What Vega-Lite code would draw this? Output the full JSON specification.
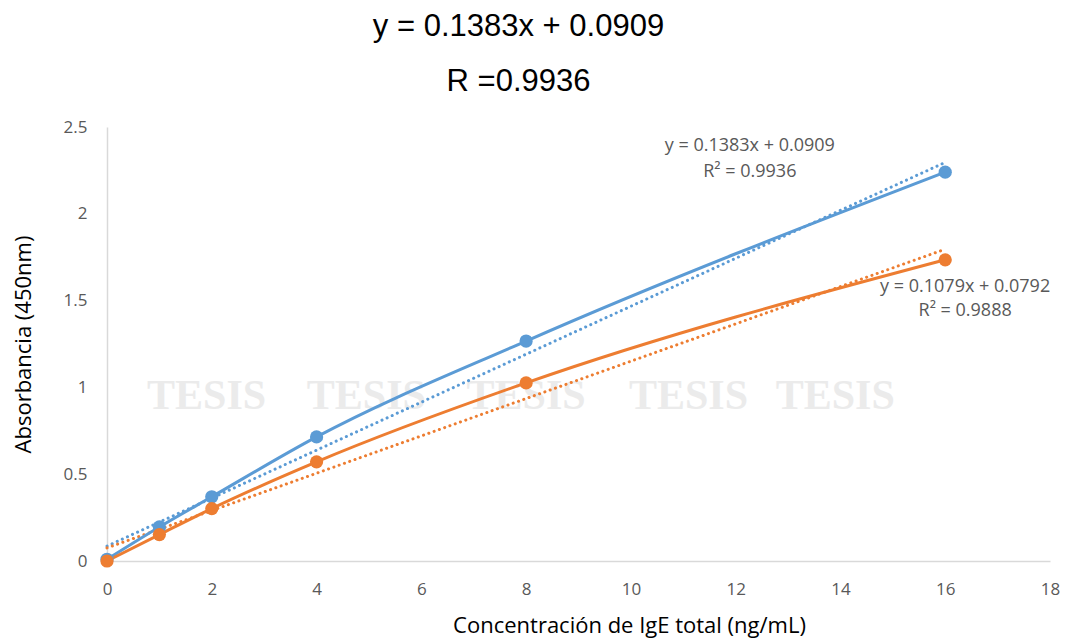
{
  "$schema": "https://vega.github.io/schema/vega-lite/v6.json",
  "width": 943,
  "height": 434,
  "autosize": {"type": "none"},
  "padding": {"left": 107, "top": 127, "right": 18, "bottom": 82},
  "background": "white",
  "title": {
    "text": ["y = 0.1383x + 0.0909", "R =0.9936"],
    "font": "Liberation Sans",
    "fontSize": 31,
    "fontWeight": "normal",
    "color": "#000000",
    "lineHeight": 55,
    "anchor": "middle",
    "frame": "group",
    "dx": -60,
    "offset": 20
  },
  "config": {
    "view": {"stroke": null},
    "axis": {
      "grid": false,
      "ticks": false,
      "labelFlush": false,
      "domainColor": "#d9d9d9",
      "domainWidth": 1.5,
      "labelColor": "#595959",
      "labelFont": "Open Sans",
      "labelFontSize": 17,
      "titleColor": "#000000",
      "titleFont": "Open Sans",
      "titleFontSize": 22,
      "titleFontWeight": "normal"
    }
  },
  "datasets": {
    "pts": [
      {"x": 0, "y": 0.01, "serie": "A"},
      {"x": 1, "y": 0.196, "serie": "A"},
      {"x": 2, "y": 0.37, "serie": "A"},
      {"x": 4, "y": 0.715, "serie": "A"},
      {"x": 8, "y": 1.267, "serie": "A"},
      {"x": 16, "y": 2.24, "serie": "A"},
      {"x": 0, "y": 0.0, "serie": "B"},
      {"x": 1, "y": 0.152, "serie": "B"},
      {"x": 2, "y": 0.302, "serie": "B"},
      {"x": 4, "y": 0.571, "serie": "B"},
      {"x": 8, "y": 1.026, "serie": "B"},
      {"x": 16, "y": 1.735, "serie": "B"}
    ],
    "wm": [
      {"x": 1.9, "y": 0.95, "t": "TESIS"},
      {"x": 4.95, "y": 0.95, "t": "TESIS"},
      {"x": 8.0, "y": 0.95, "t": "TESIS"},
      {"x": 11.1, "y": 0.95, "t": "TESIS"},
      {"x": 13.9, "y": 0.95, "t": "TESIS"}
    ],
    "ann": [
      {"x": 12.27, "y": 2.39, "t": "y = 0.1383x + 0.0909"},
      {"x": 12.27, "y": 2.24, "t": "R² = 0.9936"},
      {"x": 16.38, "y": 1.58, "t": "y = 0.1079x + 0.0792"},
      {"x": 16.38, "y": 1.44, "t": "R² = 0.9888"}
    ]
  },
  "layer": [
    {
      "data": {"name": "wm"},
      "mark": {"type": "text", "font": "Liberation Serif", "fontWeight": "bold", "fontSize": 42, "color": "#ebebeb", "align": "center", "baseline": "middle"},
      "encoding": {
        "x": {"field": "x", "type": "quantitative"},
        "y": {"field": "y", "type": "quantitative"},
        "text": {"field": "t"}
      }
    },
    {
      "data": {"name": "pts"},
      "transform": [{"regression": "y", "on": "x", "groupby": ["serie"], "extent": [0, 16]}],
      "mark": {"type": "line", "strokeWidth": 3, "strokeDash": [0.1, 5.5], "strokeCap": "round"},
      "encoding": {
        "x": {"field": "x", "type": "quantitative"},
        "y": {"field": "y", "type": "quantitative"},
        "color": {"field": "serie", "type": "nominal", "scale": {"domain": ["A", "B"], "range": ["#5B9BD5", "#ED7D31"]}, "legend": null}
      }
    },
    {
      "data": {"name": "pts"},
      "mark": {"type": "line", "strokeWidth": 3, "interpolate": "monotone"},
      "encoding": {
        "x": {
          "field": "x", "type": "quantitative",
          "scale": {"domain": [0, 18], "nice": false, "zero": true},
          "axis": {"values": [0, 2, 4, 6, 8, 10, 12, 14, 16, 18], "labelPadding": 20, "title": "Concentración de IgE total (ng/mL)", "titleX": 522, "titlePadding": 18}
        },
        "y": {
          "field": "y", "type": "quantitative",
          "scale": {"domain": [0, 2.5], "nice": false},
          "axis": {"values": [0, 0.5, 1, 1.5, 2, 2.5], "format": "~g", "labelPadding": 20, "title": "Absorbancia (450nm)", "titlePadding": 28}
        },
        "color": {"field": "serie", "type": "nominal", "scale": {"domain": ["A", "B"], "range": ["#5B9BD5", "#ED7D31"]}, "legend": null}
      }
    },
    {
      "data": {"name": "pts"},
      "mark": {"type": "point", "filled": true, "opacity": 1, "size": 175},
      "encoding": {
        "x": {"field": "x", "type": "quantitative"},
        "y": {"field": "y", "type": "quantitative"},
        "color": {"field": "serie", "type": "nominal", "scale": {"domain": ["A", "B"], "range": ["#5B9BD5", "#ED7D31"]}, "legend": null}
      }
    },
    {
      "data": {"name": "ann"},
      "mark": {"type": "text", "font": "Open Sans", "fontSize": 18, "color": "#595959", "align": "center", "baseline": "middle"},
      "encoding": {
        "x": {"field": "x", "type": "quantitative"},
        "y": {"field": "y", "type": "quantitative"},
        "text": {"field": "t"}
      }
    }
  ]
}
